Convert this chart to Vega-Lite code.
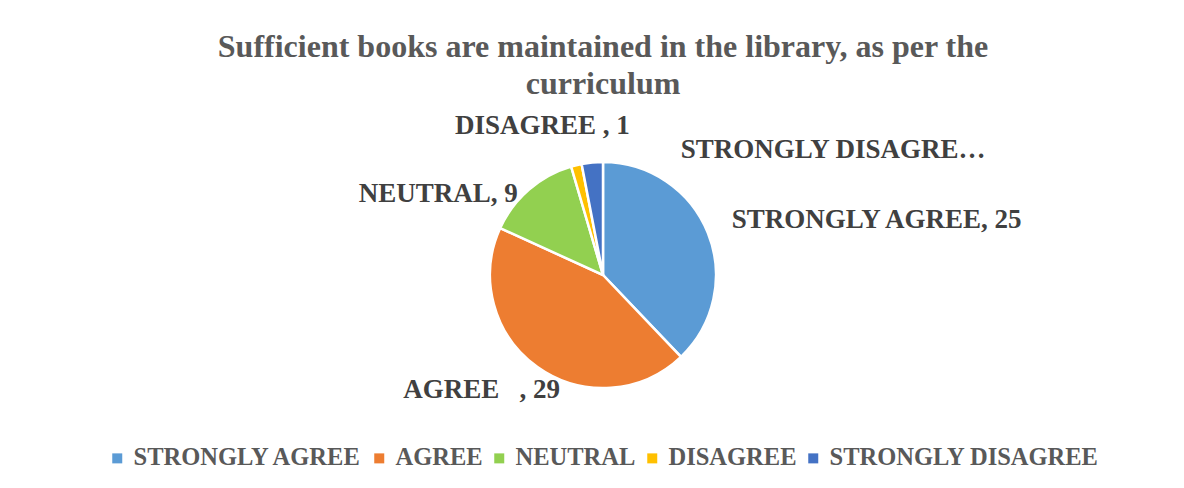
{
  "$schema": "https://vega.github.io/schema/vega-lite/v6.json",
  "autosize": {"type": "none"},
  "width": 1100,
  "height": 290,
  "padding": {"left": 53, "top": 130, "right": 31, "bottom": 68},
  "background": "white",
  "config": {"view": {"stroke": null}, "font": "Liberation Serif"},
  "title": {
    "text": ["Sufficient books are maintained in the library, as per the", "curriculum"],
    "frame": "group",
    "anchor": "middle",
    "offset": 8,
    "fontSize": 32,
    "lineHeight": 37,
    "font": "Liberation Serif",
    "fontWeight": "bold",
    "color": "#595959"
  },
  "data": {
    "values": [
      {"category": "STRONGLY AGREE", "count": 25, "order": 1, "label": "STRONGLY AGREE, 25"},
      {"category": "AGREE", "count": 29, "order": 2, "label": "AGREE\u00a0\u00a0\u00a0, 29"},
      {"category": "NEUTRAL", "count": 9, "order": 3, "label": "NEUTRAL, 9"},
      {"category": "DISAGREE", "count": 1, "order": 4, "label": "DISAGREE , 1"},
      {"category": "STRONGLY DISAGREE", "count": 2, "order": 5, "label": "STRONGLY DISAGRE…"}
    ]
  },
  "encoding": {
    "theta": {"field": "count", "type": "quantitative", "stack": true},
    "order": {"field": "order", "type": "quantitative"}
  },
  "layer": [
    {
      "mark": {"type": "arc", "outerRadius": 113, "stroke": "white", "strokeWidth": 2.5},
      "encoding": {
        "color": {
          "field": "category",
          "type": "nominal",
          "sort": ["STRONGLY AGREE", "AGREE", "NEUTRAL", "DISAGREE", "STRONGLY DISAGREE"],
          "scale": {
            "domain": ["STRONGLY AGREE", "AGREE", "NEUTRAL", "DISAGREE", "STRONGLY DISAGREE"],
            "range": ["#5B9BD5", "#ED7D31", "#92D050", "#FFC000", "#4472C4"]
          },
          "legend": {
            "title": null,
            "orient": "none",
            "legendX": 52,
            "legendY": 316,
            "direction": "horizontal",
            "symbolType": "square",
            "symbolSize": 100,
            "symbolStrokeWidth": 0,
            "labelFont": "Liberation Serif",
            "labelFontWeight": "bold",
            "labelFontSize": 24.5,
            "labelColor": "#595959",
            "labelOffset": 4,
            "columnPadding": 4,
            "labelLimit": 400
          }
        }
      }
    },
    {
      "mark": {"type": "text", "radius": 130, "align": "left", "baseline": "middle", "dx": 8, "dy": -7, "fontSize": 27, "fontWeight": "bold", "color": "#404040"},
      "encoding": {"text": {"condition": {"test": "datum.category === 'STRONGLY AGREE'", "field": "label"}, "value": ""}}
    },
    {
      "mark": {"type": "text", "radius": 130, "align": "center", "baseline": "middle", "dx": -46, "dy": 9, "fontSize": 27, "fontWeight": "bold", "color": "#404040"},
      "encoding": {"text": {"condition": {"test": "datum.category === 'AGREE'", "field": "label"}, "value": ""}}
    },
    {
      "mark": {"type": "text", "radius": 130, "align": "right", "baseline": "middle", "dx": 0, "dy": 17, "fontSize": 27, "fontWeight": "bold", "color": "#404040"},
      "encoding": {"text": {"condition": {"test": "datum.category === 'NEUTRAL'", "field": "label"}, "value": ""}}
    },
    {
      "mark": {"type": "text", "radius": 130, "align": "center", "baseline": "middle", "dx": -30, "dy": -23, "fontSize": 27, "fontWeight": "bold", "color": "#404040"},
      "encoding": {"text": {"condition": {"test": "datum.category === 'DISAGREE'", "field": "label"}, "value": ""}}
    },
    {
      "mark": {"type": "text", "radius": 130, "align": "left", "baseline": "middle", "dx": 90, "dy": 4, "fontSize": 27, "fontWeight": "bold", "color": "#404040"},
      "encoding": {"text": {"condition": {"test": "datum.category === 'STRONGLY DISAGREE'", "field": "label"}, "value": ""}}
    }
  ]
}
